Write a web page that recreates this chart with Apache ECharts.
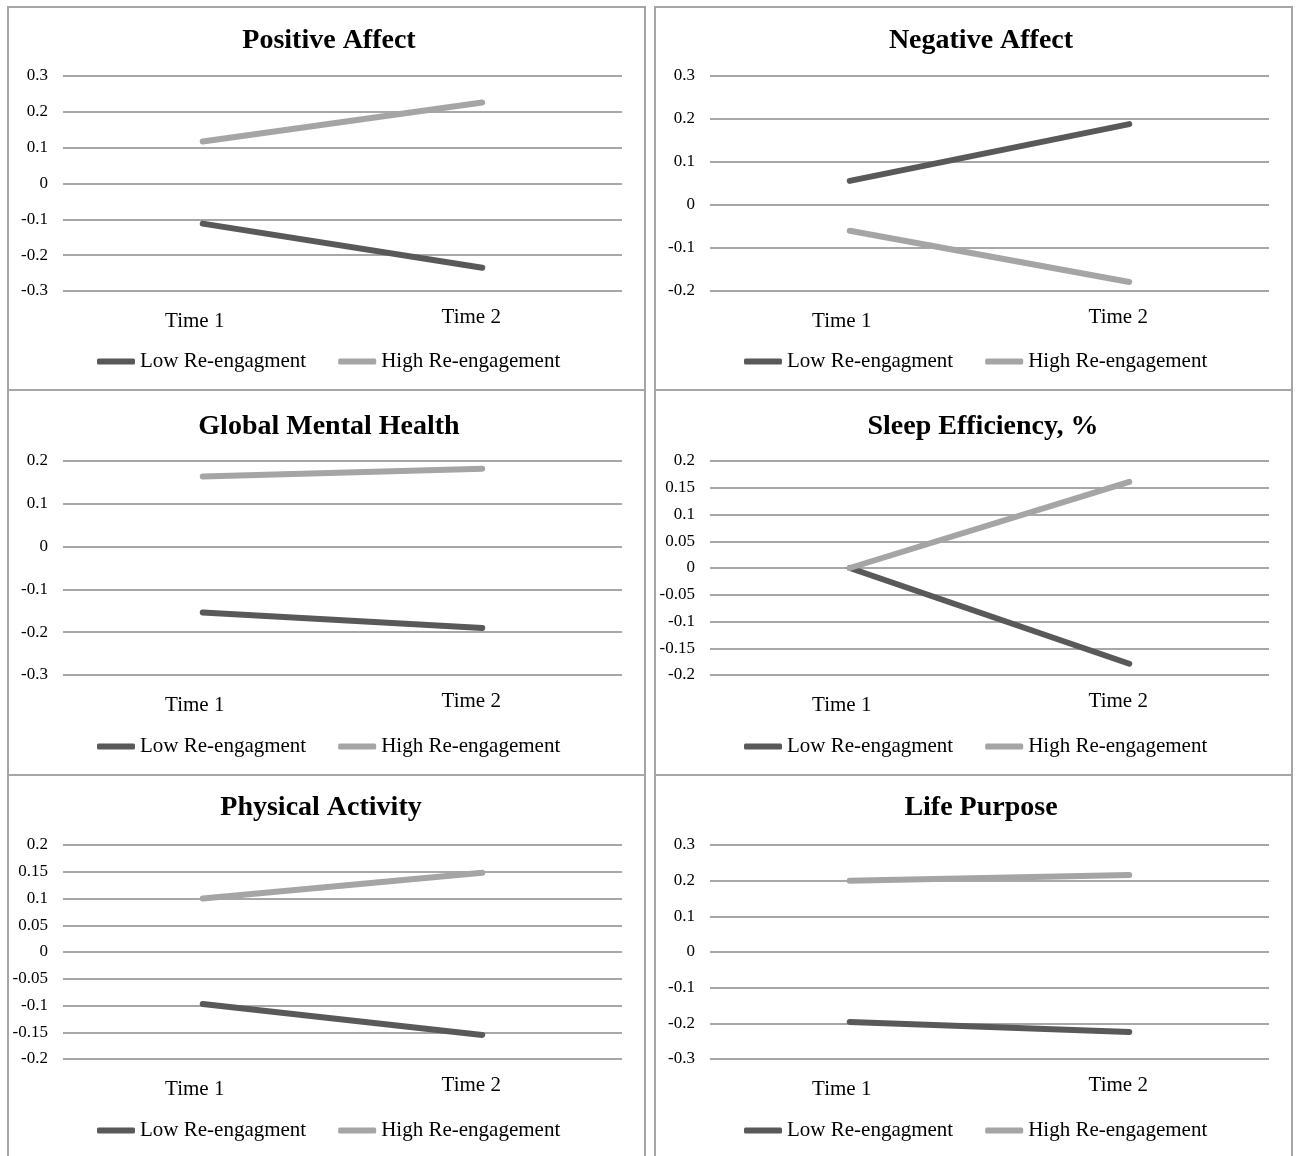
<!DOCTYPE html>
<html>
<head>
<meta charset="utf-8">
<script src="https://cdn.jsdelivr.net/npm/echarts@6/dist/echarts.min.js"></script>
<style>
  html, body { margin: 0; padding: 0; background: #fff; }
  #chart { width: 1296px; height: 1156px; }
</style>
</head>
<body>
<div id="chart"></div>
<script>
var categories = ['Time 1', 'Time 2'];
var seriesNames = ['Low Re-engagment', 'High Re-engagement'];

// values
var positiveLow = [-0.112, -0.235];
var positiveHigh = [0.117, 0.226];
var negativeLow = [0.056, 0.188];
var negativeHigh = [-0.06, -0.179];
var mentalLow = [-0.154, -0.19];
var mentalHigh = [0.164, 0.182];
var sleepLow = [0, -0.179];
var sleepHigh = [0, 0.161];
var activityLow = [-0.097, -0.155];
var activityHigh = [0.1, 0.148];
var purposeLow = [-0.196, -0.224];
var purposeHigh = [0.2, 0.216];

var panels = [
  { title: 'Positive Affect', low: positiveLow, high: positiveHigh, min: -0.3, max: 0.3, step: 0.1 },
  { title: 'Negative Affect', low: negativeLow, high: negativeHigh, min: -0.2, max: 0.3, step: 0.1 },
  { title: 'Global Mental Health', low: mentalLow, high: mentalHigh, min: -0.3, max: 0.2, step: 0.1 },
  { title: 'Sleep Efficiency, %', low: sleepLow, high: sleepHigh, min: -0.2, max: 0.2, step: 0.05 },
  { title: 'Physical Activity', low: activityLow, high: activityHigh, min: -0.2, max: 0.2, step: 0.05 },
  { title: 'Life Purpose', low: purposeLow, high: purposeHigh, min: -0.3, max: 0.3, step: 0.1 }
];

var FONT = "'Liberation Serif', 'Times New Roman', serif";
var LOW_COLOR = '#595959';
var HIGH_COLOR = '#a5a5a5';

// layout of the 2x3 boxes
var colX = [8, 655];
var rowY = [7, 390, 775];
var rowH = [383, 385, 400];
var gridTop = [76, 461, 845];
var gridH = [215, 214, 214];
var titleX = [329, 981, 329, 983, 321, 981];
var titleY = [41, 427, 808];
var legendTop = [351, 736, 1120];

var chart = echarts.init(document.getElementById('chart'));

var grids = [], xAxes = [], yAxes = [], series = [], legends = [], graphics = [];

panels.forEach(function (p, i) {
  var col = i % 2, row = Math.floor(i / 2);
  var x0 = colX[col];

  graphics.push({
    type: 'rect',
    shape: { x: x0, y: rowY[row], width: 637, height: rowH[row] },
    style: { fill: null, stroke: '#a6a6a6', lineWidth: 2 },
    z: -1
  });
  graphics.push({
    type: 'text',
    x: titleX[i],
    y: titleY[row],
    style: {
      text: p.title,
      font: 'bold 28px ' + FONT,
      fill: '#000',
      textAlign: 'center',
      textVerticalAlign: 'middle'
    }
  });

  grids.push({ left: x0 + 55, width: 559, top: gridTop[row], height: gridH[row] });

  xAxes.push({
    type: 'category',
    gridIndex: i,
    data: categories,
    boundaryGap: true,
    axisLine: { show: false },
    axisTick: { show: false },
    axisLabel: {
      margin: 15,
      fontFamily: FONT,
      fontSize: 21,
      color: '#000',
      formatter: function (v, idx) {
        return idx === 0 ? '{t1|' + v + '}' : '{t2|' + v + '}';
      },
      rich: {
        t1: { fontFamily: FONT, fontSize: 21, color: '#000', padding: [5, 16, 0, 0] },
        t2: { fontFamily: FONT, fontSize: 21, color: '#000', padding: [1, 22, 0, 0] }
      }
    }
  });

  yAxes.push({
    type: 'value',
    gridIndex: i,
    min: p.min,
    max: p.max,
    interval: p.step,
    axisLine: { show: false },
    axisTick: { show: false },
    axisLabel: { margin: 15, fontFamily: FONT, fontSize: 17, color: '#000' },
    splitLine: { show: true, lineStyle: { color: '#8a8a8a', width: 1.5 } }
  });

  series.push({
    name: seriesNames[0], type: 'line', xAxisIndex: i, yAxisIndex: i,
    data: p.low, showSymbol: false, symbol: 'none',
    lineStyle: { color: LOW_COLOR, width: 6, cap: 'round' },
    itemStyle: { color: LOW_COLOR }
  });
  series.push({
    name: seriesNames[1], type: 'line', xAxisIndex: i, yAxisIndex: i,
    data: p.high, showSymbol: false, symbol: 'none',
    lineStyle: { color: HIGH_COLOR, width: 6, cap: 'round' },
    itemStyle: { color: HIGH_COLOR }
  });

  legends.push({
    left: x0 + 89,
    top: legendTop[row],
    padding: 0,
    data: seriesNames,
    icon: 'roundRect',
    itemWidth: 38,
    itemHeight: 6,
    itemGap: 32,
    textStyle: { fontFamily: FONT, fontSize: 21, color: '#000' }
  });
});

var option = {
  backgroundColor: '#fff',
  animation: false,
  grid: grids,
  xAxis: xAxes,
  yAxis: yAxes,
  legend: legends,
  series: series,
  graphic: graphics
};
chart.setOption(option);
</script>
</body>
</html>
